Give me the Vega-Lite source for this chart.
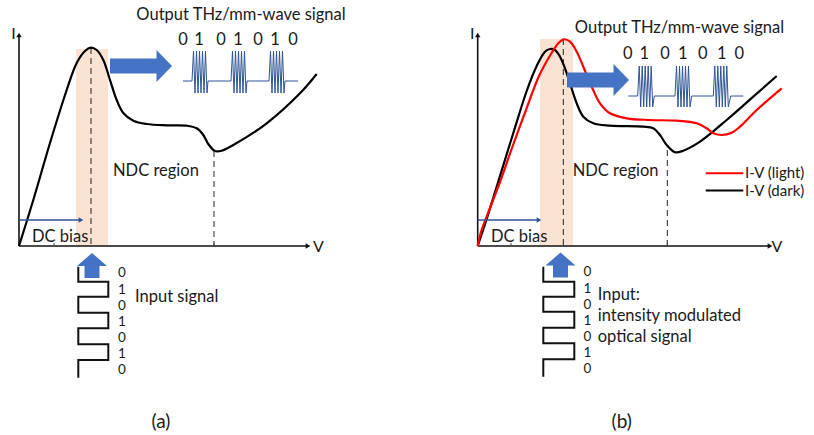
{
  "$schema": "https://vega.github.io/schema/vega-lite/v6.json",
  "width": 814,
  "height": 435,
  "autosize": {"type": "none"},
  "padding": 0,
  "background": "white",
  "config": {"view": {"stroke": null}, "text": {"font": "Lato", "color": "#1a1a1a"}},
  "datasets": {
    "bands": [
      {"x": 76, "x2": 108, "y": 49, "y2": 246},
      {"x": 540, "x2": 573, "y": 39, "y2": 246}
    ],
    "axes": [
      {"x": 19, "y": 246, "x2": 19, "y2": 37},
      {"x": 19, "y": 246, "x2": 306, "y2": 246},
      {"x": 477.7, "y": 246, "x2": 477.7, "y2": 37},
      {"x": 477.7, "y": 246, "x2": 768, "y2": 246}
    ],
    "ticks": [
      {"x": 54, "y": 243, "x2": 54, "y2": 246},
      {"x": 214, "y": 243, "x2": 214, "y2": 246},
      {"x": 511, "y": 243, "x2": 511, "y2": 246},
      {"x": 667.3, "y": 243, "x2": 667.3, "y2": 246}
    ],
    "headsUp": [{"x": 19, "y": 35}, {"x": 477.7, "y": 35}],
    "headsRight": [{"x": 308, "y": 246}, {"x": 770, "y": 246}],
    "dashed": [
      {"x": 91, "y": 48, "x2": 91, "y2": 246},
      {"x": 214, "y": 151, "x2": 214, "y2": 246},
      {"x": 563.3, "y": 39, "x2": 563.3, "y2": 246},
      {"x": 667.3, "y": 150, "x2": 667.3, "y2": 246}
    ],
    "curves": [
      {"curve": "a_dark", "x": 19, "y": 246},
      {"curve": "a_dark", "x": 33.3, "y": 200},
      {"curve": "a_dark", "x": 50, "y": 143},
      {"curve": "a_dark", "x": 66.7, "y": 90},
      {"curve": "a_dark", "x": 76.7, "y": 63},
      {"curve": "a_dark", "x": 85, "y": 51},
      {"curve": "a_dark", "x": 90.7, "y": 47.7},
      {"curve": "a_dark", "x": 96.7, "y": 50},
      {"curve": "a_dark", "x": 103.3, "y": 60},
      {"curve": "a_dark", "x": 110, "y": 80},
      {"curve": "a_dark", "x": 116.7, "y": 100},
      {"curve": "a_dark", "x": 123.3, "y": 113},
      {"curve": "a_dark", "x": 133.3, "y": 120.7},
      {"curve": "a_dark", "x": 146.7, "y": 124},
      {"curve": "a_dark", "x": 166.7, "y": 125.3},
      {"curve": "a_dark", "x": 186.7, "y": 125.7},
      {"curve": "a_dark", "x": 196.7, "y": 128.3},
      {"curve": "a_dark", "x": 203.3, "y": 135},
      {"curve": "a_dark", "x": 208.3, "y": 144},
      {"curve": "a_dark", "x": 215, "y": 151},
      {"curve": "a_dark", "x": 221.7, "y": 150.7},
      {"curve": "a_dark", "x": 233.3, "y": 145},
      {"curve": "a_dark", "x": 266.7, "y": 123.3},
      {"curve": "a_dark", "x": 300, "y": 93.3},
      {"curve": "a_dark", "x": 316.7, "y": 74},
      {"curve": "b_dark", "x": 477.7, "y": 246},
      {"curve": "b_dark", "x": 486.7, "y": 219},
      {"curve": "b_dark", "x": 500, "y": 176},
      {"curve": "b_dark", "x": 513.3, "y": 133},
      {"curve": "b_dark", "x": 526.7, "y": 91},
      {"curve": "b_dark", "x": 536.7, "y": 66},
      {"curve": "b_dark", "x": 545, "y": 51.7},
      {"curve": "b_dark", "x": 550, "y": 49},
      {"curve": "b_dark", "x": 555, "y": 50},
      {"curve": "b_dark", "x": 560, "y": 56.7},
      {"curve": "b_dark", "x": 565, "y": 68.3},
      {"curve": "b_dark", "x": 570, "y": 83.3},
      {"curve": "b_dark", "x": 576.7, "y": 103.3},
      {"curve": "b_dark", "x": 583.3, "y": 116.7},
      {"curve": "b_dark", "x": 593.3, "y": 123.3},
      {"curve": "b_dark", "x": 610, "y": 125.7},
      {"curve": "b_dark", "x": 643.3, "y": 126.7},
      {"curve": "b_dark", "x": 653.3, "y": 128.3},
      {"curve": "b_dark", "x": 660, "y": 135},
      {"curve": "b_dark", "x": 666.7, "y": 145},
      {"curve": "b_dark", "x": 675, "y": 152.3},
      {"curve": "b_dark", "x": 683.3, "y": 150.7},
      {"curve": "b_dark", "x": 700, "y": 141.7},
      {"curve": "b_dark", "x": 726.7, "y": 120},
      {"curve": "b_dark", "x": 753.3, "y": 96.7},
      {"curve": "b_dark", "x": 776.7, "y": 76},
      {"curve": "b_light", "x": 477.7, "y": 246},
      {"curve": "b_light", "x": 481, "y": 232},
      {"curve": "b_light", "x": 490, "y": 208},
      {"curve": "b_light", "x": 500, "y": 182},
      {"curve": "b_light", "x": 512, "y": 148},
      {"curve": "b_light", "x": 526, "y": 110},
      {"curve": "b_light", "x": 539, "y": 76},
      {"curve": "b_light", "x": 551, "y": 54},
      {"curve": "b_light", "x": 558.3, "y": 43.3},
      {"curve": "b_light", "x": 564, "y": 39.3},
      {"curve": "b_light", "x": 570, "y": 41.7},
      {"curve": "b_light", "x": 576.7, "y": 51.7},
      {"curve": "b_light", "x": 583.3, "y": 66.7},
      {"curve": "b_light", "x": 591.7, "y": 86.7},
      {"curve": "b_light", "x": 600, "y": 103.3},
      {"curve": "b_light", "x": 610, "y": 113.3},
      {"curve": "b_light", "x": 626.7, "y": 118.3},
      {"curve": "b_light", "x": 650, "y": 120},
      {"curve": "b_light", "x": 676.7, "y": 120.7},
      {"curve": "b_light", "x": 696.7, "y": 123.3},
      {"curve": "b_light", "x": 706.7, "y": 128.3},
      {"curve": "b_light", "x": 713.3, "y": 133.3},
      {"curve": "b_light", "x": 721.7, "y": 135},
      {"curve": "b_light", "x": 731.7, "y": 132.7},
      {"curve": "b_light", "x": 740, "y": 126.7},
      {"curve": "b_light", "x": 756.7, "y": 110},
      {"curve": "b_light", "x": 781.7, "y": 88.3}
    ],
    "wave": [
      {"panel": "a", "x": 183, "y": 81}, {"panel": "a", "x": 192, "y": 81},
      {"panel": "a", "x": 193.5, "y": 51}, {"panel": "a", "x": 195, "y": 93}, {"panel": "a", "x": 196.5, "y": 51}, {"panel": "a", "x": 198, "y": 93},
      {"panel": "a", "x": 199.5, "y": 51}, {"panel": "a", "x": 201, "y": 93}, {"panel": "a", "x": 202.5, "y": 51}, {"panel": "a", "x": 204, "y": 93},
      {"panel": "a", "x": 205.5, "y": 51}, {"panel": "a", "x": 207, "y": 93}, {"panel": "a", "x": 208, "y": 81},
      {"panel": "a", "x": 231, "y": 81},
      {"panel": "a", "x": 232.5, "y": 51}, {"panel": "a", "x": 234, "y": 93}, {"panel": "a", "x": 235.5, "y": 51}, {"panel": "a", "x": 237, "y": 93},
      {"panel": "a", "x": 238.5, "y": 51}, {"panel": "a", "x": 240, "y": 93}, {"panel": "a", "x": 241.5, "y": 51}, {"panel": "a", "x": 243, "y": 93},
      {"panel": "a", "x": 244.5, "y": 51}, {"panel": "a", "x": 246, "y": 93}, {"panel": "a", "x": 247, "y": 81},
      {"panel": "a", "x": 269, "y": 81},
      {"panel": "a", "x": 270.5, "y": 51}, {"panel": "a", "x": 272, "y": 93}, {"panel": "a", "x": 273.5, "y": 51}, {"panel": "a", "x": 275, "y": 93},
      {"panel": "a", "x": 276.5, "y": 51}, {"panel": "a", "x": 278, "y": 93}, {"panel": "a", "x": 279.5, "y": 51}, {"panel": "a", "x": 281, "y": 93},
      {"panel": "a", "x": 282.5, "y": 51}, {"panel": "a", "x": 284, "y": 93}, {"panel": "a", "x": 285, "y": 81},
      {"panel": "a", "x": 298, "y": 81},
      {"panel": "b", "x": 628.3, "y": 96}, {"panel": "b", "x": 637.7, "y": 96},
      {"panel": "b", "x": 639.2, "y": 66}, {"panel": "b", "x": 640.7, "y": 107}, {"panel": "b", "x": 642.2, "y": 66}, {"panel": "b", "x": 643.7, "y": 107},
      {"panel": "b", "x": 645.2, "y": 66}, {"panel": "b", "x": 646.7, "y": 107}, {"panel": "b", "x": 648.2, "y": 66}, {"panel": "b", "x": 649.7, "y": 107},
      {"panel": "b", "x": 651.2, "y": 66}, {"panel": "b", "x": 652.7, "y": 107}, {"panel": "b", "x": 654.3, "y": 96},
      {"panel": "b", "x": 675, "y": 96},
      {"panel": "b", "x": 676.5, "y": 66}, {"panel": "b", "x": 678, "y": 107}, {"panel": "b", "x": 679.5, "y": 66}, {"panel": "b", "x": 681, "y": 107},
      {"panel": "b", "x": 682.5, "y": 66}, {"panel": "b", "x": 684, "y": 107}, {"panel": "b", "x": 685.5, "y": 66}, {"panel": "b", "x": 687, "y": 107},
      {"panel": "b", "x": 688.5, "y": 66}, {"panel": "b", "x": 690, "y": 107}, {"panel": "b", "x": 691.7, "y": 96},
      {"panel": "b", "x": 713.3, "y": 96},
      {"panel": "b", "x": 714.8, "y": 66}, {"panel": "b", "x": 716.3, "y": 107}, {"panel": "b", "x": 717.8, "y": 66}, {"panel": "b", "x": 719.3, "y": 107},
      {"panel": "b", "x": 720.8, "y": 66}, {"panel": "b", "x": 722.3, "y": 107}, {"panel": "b", "x": 723.8, "y": 66}, {"panel": "b", "x": 725.3, "y": 107},
      {"panel": "b", "x": 726.8, "y": 66}, {"panel": "b", "x": 728.3, "y": 107}, {"panel": "b", "x": 730.7, "y": 96},
      {"panel": "b", "x": 743.3, "y": 96}
    ],
    "arrowsRight": [{"x": 141, "y": 66}, {"x": 598, "y": 80}],
    "arrowsUp": [{"x": 92, "y": 265.5}, {"x": 560.5, "y": 265}],
    "dcRules": [
      {"x": 19, "y": 220, "x2": 79, "y2": 220},
      {"x": 477.7, "y": 220, "x2": 537, "y2": 220}
    ],
    "dcHeads": [{"x": 81, "y": 220}, {"x": 539, "y": 220}],
    "square": [
      {"panel": "a", "i": 0, "x": 78.3, "y": 266.7}, {"panel": "a", "i": 1, "x": 78.3, "y": 281.7},
      {"panel": "a", "i": 2, "x": 108.3, "y": 281.7}, {"panel": "a", "i": 3, "x": 108.3, "y": 296.7},
      {"panel": "a", "i": 4, "x": 78.3, "y": 296.7}, {"panel": "a", "i": 5, "x": 78.3, "y": 312.7},
      {"panel": "a", "i": 6, "x": 108.3, "y": 312.7}, {"panel": "a", "i": 7, "x": 108.3, "y": 328.3},
      {"panel": "a", "i": 8, "x": 78.3, "y": 328.3}, {"panel": "a", "i": 9, "x": 78.3, "y": 344.3},
      {"panel": "a", "i": 10, "x": 108.3, "y": 344.3}, {"panel": "a", "i": 11, "x": 108.3, "y": 360},
      {"panel": "a", "i": 12, "x": 78.3, "y": 360}, {"panel": "a", "i": 13, "x": 78.3, "y": 377.7},
      {"panel": "b", "i": 0, "x": 543.3, "y": 266.7}, {"panel": "b", "i": 1, "x": 543.3, "y": 281.7},
      {"panel": "b", "i": 2, "x": 574.3, "y": 281.7}, {"panel": "b", "i": 3, "x": 574.3, "y": 296.7},
      {"panel": "b", "i": 4, "x": 543.3, "y": 296.7}, {"panel": "b", "i": 5, "x": 543.3, "y": 311.7},
      {"panel": "b", "i": 6, "x": 574.3, "y": 311.7}, {"panel": "b", "i": 7, "x": 574.3, "y": 327.7},
      {"panel": "b", "i": 8, "x": 543.3, "y": 327.7}, {"panel": "b", "i": 9, "x": 543.3, "y": 343.3},
      {"panel": "b", "i": 10, "x": 574.3, "y": 343.3}, {"panel": "b", "i": 11, "x": 574.3, "y": 359.3},
      {"panel": "b", "i": 12, "x": 543.3, "y": 359.3}, {"panel": "b", "i": 13, "x": 543.3, "y": 376.7}
    ],
    "legendLines": [
      {"curve": "b_light", "x": 705.7, "y": 173.3, "x2": 743.3, "y2": 173.3},
      {"curve": "b_dark", "x": 705.7, "y": 190.5, "x2": 743.3, "y2": 190.5}
    ],
    "legendTexts": [
      {"x": 745, "y": 172.5, "text": "I-V (light)"},
      {"x": 745, "y": 190.5, "text": "I-V (dark)"}
    ],
    "titles": [
      {"x": 241, "y": 15, "text": "Output THz/mm-wave signal"},
      {"x": 679.5, "y": 28.3, "text": "Output THz/mm-wave signal"}
    ],
    "bits": [
      {"x": 183, "y": 40, "text": "0"}, {"x": 199, "y": 40, "text": "1"}, {"x": 221, "y": 40, "text": "0"},
      {"x": 238, "y": 40, "text": "1"}, {"x": 258, "y": 40, "text": "0"}, {"x": 275, "y": 40, "text": "1"}, {"x": 293, "y": 40, "text": "0"},
      {"x": 627.7, "y": 54.3, "text": "0"}, {"x": 644.3, "y": 54.3, "text": "1"}, {"x": 665, "y": 54.3, "text": "0"},
      {"x": 682.7, "y": 54.3, "text": "1"}, {"x": 702.7, "y": 54.3, "text": "0"}, {"x": 721.7, "y": 54.3, "text": "1"}, {"x": 739.3, "y": 54.3, "text": "0"}
    ],
    "axisLabels": [
      {"x": 13.5, "y": 34, "text": "I"}, {"x": 318.5, "y": 247, "text": "V"},
      {"x": 472.3, "y": 34, "text": "I"}, {"x": 777, "y": 247, "text": "V"}
    ],
    "labels": [
      {"x": 113, "y": 171, "text": "NDC region"},
      {"x": 572.7, "y": 171, "text": "NDC region"},
      {"x": 32, "y": 237, "text": "DC bias"},
      {"x": 491, "y": 237, "text": "DC bias"},
      {"x": 135, "y": 297, "text": "Input signal"},
      {"x": 597.7, "y": 295, "text": "Input:"},
      {"x": 597.7, "y": 316, "text": "intensity modulated"},
      {"x": 597.7, "y": 336.7, "text": "optical signal"}
    ],
    "sqBits": [
      {"x": 122, "y": 273, "text": "0"}, {"x": 122, "y": 290, "text": "1"}, {"x": 122, "y": 306, "text": "0"},
      {"x": 122, "y": 322, "text": "1"}, {"x": 122, "y": 338, "text": "0"}, {"x": 122, "y": 354, "text": "1"}, {"x": 122, "y": 370, "text": "0"},
      {"x": 587.3, "y": 272.3, "text": "0"}, {"x": 587.3, "y": 289, "text": "1"}, {"x": 587.3, "y": 305, "text": "0"},
      {"x": 587.3, "y": 321, "text": "1"}, {"x": 587.3, "y": 337, "text": "0"}, {"x": 587.3, "y": 353, "text": "1"}, {"x": 587.3, "y": 369, "text": "0"}
    ],
    "captions": [
      {"x": 161, "y": 421.7, "text": "(a)"},
      {"x": 621.7, "y": 421.7, "text": "(b)"}
    ]
  },
  "encoding": {
    "x": {"field": "x", "type": "quantitative", "scale": {"domain": [0, 814], "nice": false, "zero": false}, "axis": null},
    "y": {"field": "y", "type": "quantitative", "scale": {"domain": [0, 435], "nice": false, "zero": false, "reverse": true}, "axis": null}
  },
  "layer": [
    {"data": {"name": "bands"}, "mark": {"type": "rect", "fill": "#fbe3d4"},
     "encoding": {"x2": {"field": "x2"}, "y2": {"field": "y2"}}},
    {"data": {"name": "dashed"}, "mark": {"type": "rule", "color": "#222", "strokeWidth": 1, "strokeDash": [6, 4]},
     "encoding": {"x2": {"field": "x2"}, "y2": {"field": "y2"}}},
    {"data": {"name": "axes"}, "mark": {"type": "rule", "color": "#111", "strokeWidth": 1.6},
     "encoding": {"x2": {"field": "x2"}, "y2": {"field": "y2"}}},
    {"data": {"name": "ticks"}, "mark": {"type": "rule", "color": "#444", "strokeWidth": 1},
     "encoding": {"x2": {"field": "x2"}, "y2": {"field": "y2"}}},
    {"data": {"name": "headsUp"}, "mark": {"type": "point", "shape": "triangle-up", "filled": true, "color": "#111", "opacity": 1, "size": 30}},
    {"data": {"name": "headsRight"}, "mark": {"type": "point", "shape": "triangle-right", "filled": true, "color": "#111", "opacity": 1, "size": 30}},
    {"data": {"name": "curves"}, "mark": {"type": "line", "interpolate": "catmull-rom", "strokeWidth": 2.2},
     "encoding": {"color": {"field": "curve", "type": "nominal", "scale": {"domain": ["a_dark", "b_dark", "b_light"], "range": ["#000000", "#000000", "#ff0000"]}, "legend": null}}},
    {"data": {"name": "wave"}, "mark": {"type": "line", "strokeWidth": 1, "color": "#2f5597"},
     "encoding": {"detail": {"field": "panel"}}},
    {"data": {"name": "arrowsRight"}, "mark": {"type": "point", "shape": "M-1,-0.24L0.5,-0.24L0.5,-0.52L1,0L0.5,0.52L0.5,0.24L-1,0.24Z", "size": 3844, "filled": true, "color": "#4472c4", "opacity": 1}},
    {"data": {"name": "arrowsUp"}, "mark": {"type": "point", "shape": "M0,-0.83L1,0.03L0.5,0.03L0.5,0.83L-0.5,0.83L-0.5,0.03L-1,0.03Z", "size": 900, "filled": true, "color": "#4472c4", "opacity": 1}},
    {"data": {"name": "dcRules"}, "mark": {"type": "rule", "color": "#2f5597", "strokeWidth": 1.5},
     "encoding": {"x2": {"field": "x2"}, "y2": {"field": "y2"}}},
    {"data": {"name": "dcHeads"}, "mark": {"type": "point", "shape": "triangle-right", "filled": true, "color": "#2f5597", "opacity": 1, "size": 30}},
    {"data": {"name": "square"}, "mark": {"type": "line", "color": "#111", "strokeWidth": 2, "strokeJoin": "miter"},
     "encoding": {"detail": {"field": "panel"}, "order": {"field": "i", "type": "quantitative"}}},
    {"data": {"name": "legendLines"}, "mark": {"type": "rule", "strokeWidth": 2},
     "encoding": {"x2": {"field": "x2"}, "y2": {"field": "y2"}, "color": {"field": "curve", "type": "nominal", "scale": {"domain": ["a_dark", "b_dark", "b_light"], "range": ["#000000", "#000000", "#ff0000"]}, "legend": null}}},
    {"data": {"name": "legendTexts"}, "mark": {"type": "text", "fontSize": 15, "align": "left", "baseline": "middle"},
     "encoding": {"text": {"field": "text"}}},
    {"data": {"name": "titles"}, "mark": {"type": "text", "fontSize": 16.5, "align": "center", "baseline": "middle"},
     "encoding": {"text": {"field": "text"}}},
    {"data": {"name": "bits"}, "mark": {"type": "text", "fontSize": 16.5, "align": "center", "baseline": "middle"},
     "encoding": {"text": {"field": "text"}}},
    {"data": {"name": "axisLabels"}, "mark": {"type": "text", "fontSize": 16, "align": "center", "baseline": "middle"},
     "encoding": {"text": {"field": "text"}}},
    {"data": {"name": "labels"}, "mark": {"type": "text", "fontSize": 16.5, "align": "left", "baseline": "middle"},
     "encoding": {"text": {"field": "text"}}},
    {"data": {"name": "sqBits"}, "mark": {"type": "text", "fontSize": 13.5, "align": "center", "baseline": "middle"},
     "encoding": {"text": {"field": "text"}}},
    {"data": {"name": "captions"}, "mark": {"type": "text", "fontSize": 19, "align": "center", "baseline": "middle"},
     "encoding": {"text": {"field": "text"}}}
  ]
}
